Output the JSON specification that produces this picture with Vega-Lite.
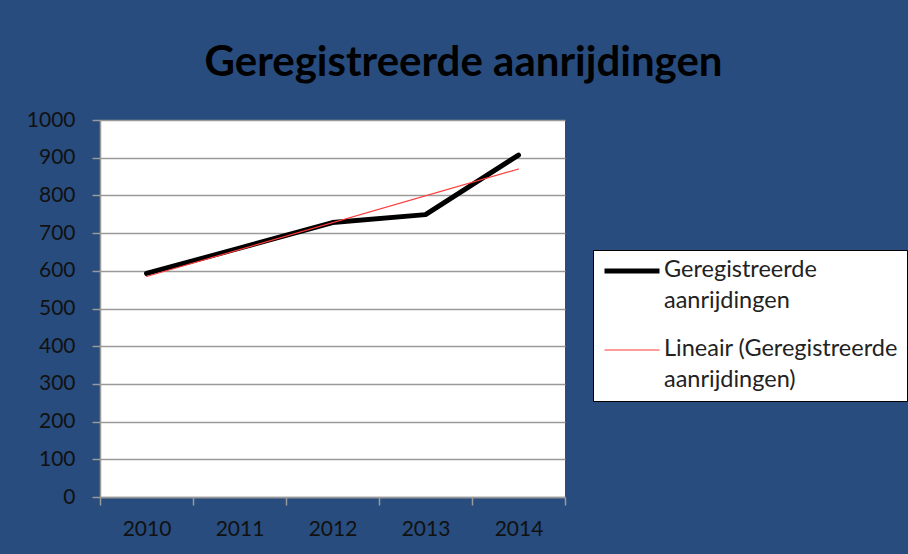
{
  "$schema": "https://vega.github.io/schema/vega-lite/v6.json",
  "width": 465,
  "height": 377,
  "autosize": {"type": "none"},
  "padding": {"left": 100, "top": 120, "right": 343, "bottom": 57},
  "background": "#274c7d",
  "title": {
    "text": "Geregistreerde aanrijdingen",
    "font": "Lato",
    "fontSize": 42,
    "fontWeight": "bold",
    "color": "#000000",
    "anchor": "middle",
    "dx": 131,
    "offset": 24
  },
  "config": {
    "view": {"fill": "white", "stroke": null}
  },
  "data": {
    "values": [
      {"year": "2010", "value": 593, "series": "Geregistreerde aanrijdingen"},
      {"year": "2011", "value": 660, "series": "Geregistreerde aanrijdingen"},
      {"year": "2012", "value": 728, "series": "Geregistreerde aanrijdingen"},
      {"year": "2013", "value": 749, "series": "Geregistreerde aanrijdingen"},
      {"year": "2014", "value": 907, "series": "Geregistreerde aanrijdingen"},
      {"year": "2010", "value": 585, "series": "Lineair (Geregistreerde aanrijdingen)"},
      {"year": "2014", "value": 870, "series": "Lineair (Geregistreerde aanrijdingen)"}
    ]
  },
  "mark": {"type": "line", "strokeJoin": "round", "strokeCap": "round"},
  "encoding": {
    "x": {
      "field": "year",
      "type": "ordinal",
      "bandPosition": 0.5,
      "scale": {"type": "band", "paddingInner": 0, "paddingOuter": 0},
      "axis": {
        "title": null,
        "labelAngle": 0,
        "tickBand": "extent",
        "grid": false,
        "tickSize": 8,
        "tickColor": "#9a9a9a",
        "tickWidth": 1.5,
        "domainColor": "#9a9a9a",
        "domainWidth": 1.5,
        "labelFont": "Lato",
        "labelFontSize": 21,
        "labelColor": "#111111",
        "labelPadding": 13
      }
    },
    "y": {
      "field": "value",
      "type": "quantitative",
      "scale": {"domain": [0, 1000], "nice": false},
      "axis": {
        "title": null,
        "format": "d",
        "values": [0, 100, 200, 300, 400, 500, 600, 700, 800, 900, 1000],
        "domain": true,
        "domainColor": "#9a9a9a",
        "domainWidth": 1.5,
        "grid": true,
        "gridColor": "#9a9a9a",
        "gridWidth": 1.5,
        "tickSize": 8,
        "tickColor": "#9a9a9a",
        "tickWidth": 1.5,
        "labelFont": "Lato",
        "labelFontSize": 21,
        "labelColor": "#111111",
        "labelPadding": 17
      }
    },
    "color": {
      "field": "series",
      "type": "nominal",
      "scale": {
        "domain": ["Geregistreerde aanrijdingen", "Lineair (Geregistreerde aanrijdingen)"],
        "range": ["#000000", "#ff3b3b"]
      },
      "legend": {
        "title": null,
        "orient": "none",
        "legendX": 493,
        "legendY": 130,
        "fillColor": "white",
        "strokeColor": "#000000",
        "padding": 9,
        "symbolType": "stroke",
        "symbolSize": 3025,
        "labelFont": "Lato",
        "labelFontSize": 23.5,
        "labelColor": "#222222",
        "labelLimit": 400,
        "labelOffset": 2,
        "labelBaseline": "top",
        "rowPadding": 24,
        "labelExpr": "datum.label == 'Geregistreerde aanrijdingen' ? ['Geregistreerde', 'aanrijdingen'] : ['Lineair (Geregistreerde', 'aanrijdingen)']",
        "encode": {
          "symbols": {"update": {"y": {"value": 12}}},
          "labels": {"update": {"lineHeight": {"value": 31}, "y": {"value": 0}, "dy": {"value": -1}}}
        }
      }
    },
    "strokeWidth": {
      "field": "series",
      "type": "nominal",
      "scale": {
        "domain": ["Geregistreerde aanrijdingen", "Lineair (Geregistreerde aanrijdingen)"],
        "range": [5, 1.2]
      },
      "legend": null
    }
  }
}
